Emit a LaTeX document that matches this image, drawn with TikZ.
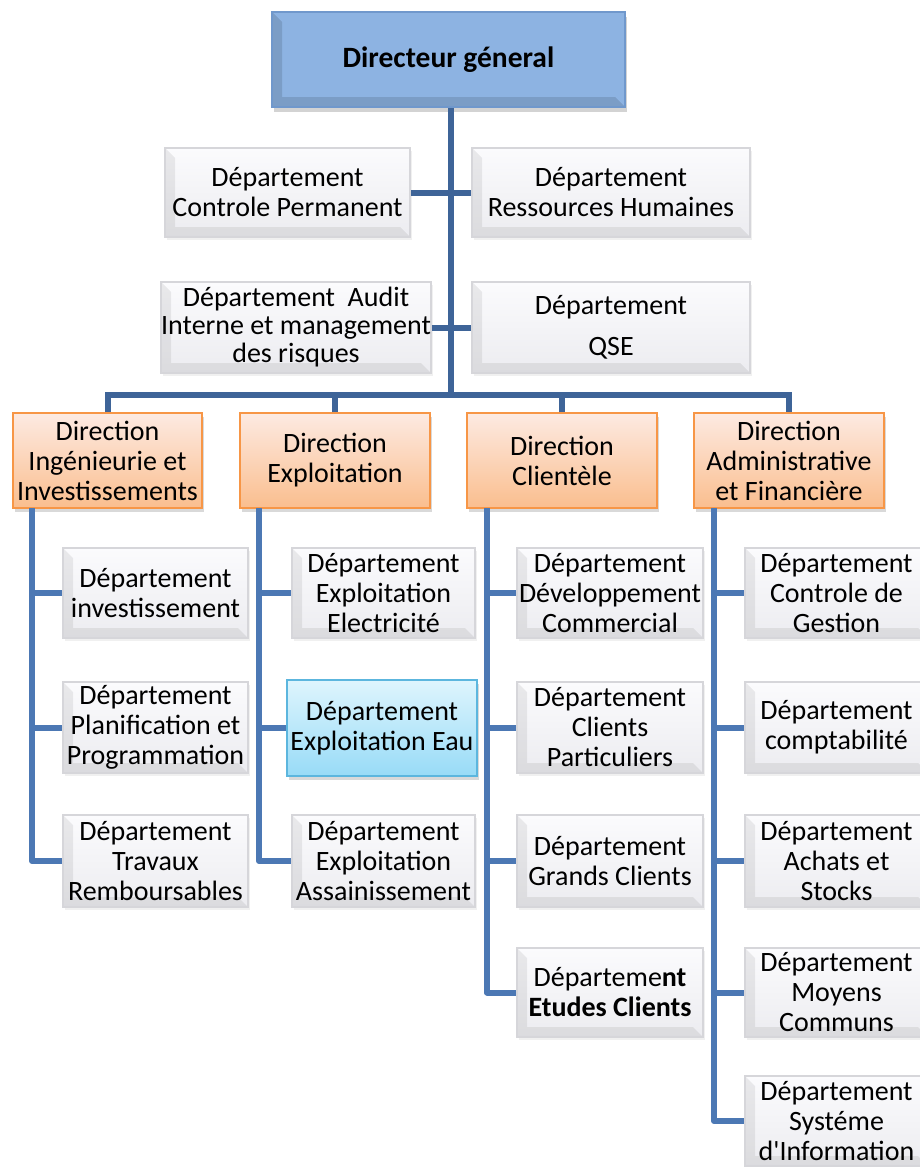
\documentclass[tikz,border=0pt]{standalone}
\usepackage{fontspec}
\setmainfont{Carlito}
\newfontfamily\straightq{Carlito}[Ligatures=TeXOff]
\usetikzlibrary{shadows}
\definecolor{trunkc}{RGB}{62,100,152}
\definecolor{colc}{RGB}{76,120,180}
\definecolor{grayfillA}{RGB}{251,251,253}
\definecolor{grayfillB}{RGB}{236,236,240}
\definecolor{grayedge}{RGB}{214,214,218}
\definecolor{bluefill}{RGB}{141,179,226}
\definecolor{blueedge}{RGB}{112,152,204}
\definecolor{orA}{RGB}{253,234,226}
\definecolor{orB}{RGB}{250,190,142}
\definecolor{ored}{RGB}{247,150,70}
\definecolor{eauA}{RGB}{222,245,253}
\definecolor{eauB}{RGB}{152,219,247}
\definecolor{eaued}{RGB}{92,182,222}
\tikzset{
  txt/.style={align=center, inner sep=0pt, font=\fontsize{28}{30}\selectfont},
  bevel/.style={path picture={
     \fill[black,opacity=#1] (path picture bounding box.north west)
        -- ([xshift=10pt,yshift=-10pt]path picture bounding box.north west)
        -- ([xshift=10pt,yshift=10pt]path picture bounding box.south west)
        -- ([xshift=-10pt,yshift=10pt]path picture bounding box.south east)
        -- (path picture bounding box.south east)
        -- (path picture bounding box.south west) -- cycle;}},
  gbox/.style={txt, draw=grayedge, line width=2pt, top color=grayfillA, bottom color=grayfillB,
     bevel=0.07, drop shadow={opacity=0.12, shadow xshift=2pt, shadow yshift=-3pt}},
  topbox/.style={txt, draw=blueedge, line width=2.5pt, fill=bluefill, bevel=0.12,
     font=\fontsize{29.5}{32}\selectfont\bfseries,
     drop shadow={opacity=0.35, shadow xshift=2pt, shadow yshift=-5pt}},
  dirbox/.style={txt, draw=ored, line width=1.5pt, top color=orA, bottom color=orB,
     drop shadow={opacity=0.3, shadow xshift=2pt, shadow yshift=-4pt}},
  eaubox/.style={txt, draw=eaued, line width=1.5pt, top color=eauA, bottom color=eauB,
     drop shadow={opacity=0.3, shadow xshift=2pt, shadow yshift=-4pt}},
  trunk/.style={draw=trunkc, line width=6pt},
  colline/.style={draw=colc, line width=6pt, line join=round}
}
\begin{document}
\begin{tikzpicture}[x=1pt,y=-1pt]
\useasboundingbox (0,0) rectangle (919,1167);

% coordinates of the trunk and column lines
\coordinate (bus) at (451,395);
\coordinate (c1) at (32,508);
\coordinate (c2) at (259,508);
\coordinate (c3) at (487,508);
\coordinate (c4) at (714,508);

% top
\node[topbox, minimum width=353pt, minimum height=95pt] (dg) at (448.5,59.5) {Directeur géneral};

\node[gbox, minimum width=245pt, minimum height=89pt] (cp) at (287.5,192.5) {Département\\Controle Permanent};
\node[gbox, minimum width=278pt, minimum height=89pt] (rh) at (611,192.5) {Département\\Ressources Humaines};
\node[gbox, minimum width=262pt, minimum height=91pt] (au) at (296,327.5) {Département~ Audit\\[-2pt]Interne et management\\[-2pt]des risques};
\node[gbox, minimum width=278pt, minimum height=91pt] (qse) at (611,327.5) {Département\\[11pt]QSE};

% directions
\node[dirbox, minimum width=189pt, minimum height=95pt] (d1) at (107.5,460.5) {Direction\\Ingénieurie et\\Investissements};
\node[dirbox, minimum width=190pt, minimum height=95pt] (d2) at (335,460.5) {Direction\\Exploitation};
\node[dirbox, minimum width=190pt, minimum height=95pt] (d3) at (562,460.5) {Direction\\Clientèle};
\node[dirbox, minimum width=190pt, minimum height=95pt] (d4) at (789,460.5) {Direction\\Administrative\\et Financière};

% column 1
\node[gbox, minimum width=185pt, minimum height=90pt] (i1) at (155.5,593) {Département\\investissement};
\node[gbox, minimum width=185pt, minimum height=91pt] (i2) at (155.5,727.5) {Département\\Planification et\\Programmation};
\node[gbox, minimum width=185pt, minimum height=92pt] (i3) at (155.5,861) {Département\\Travaux\\Remboursables};

% column 2
\node[gbox, minimum width=183pt, minimum height=90pt] (e1) at (383.5,593) {Département\\Exploitation\\Electricité};
\node[eaubox, minimum width=190pt, minimum height=96pt] (e2) at (382,728) {Département\\Exploitation Eau};
\node[gbox, minimum width=183pt, minimum height=92pt] (e3) at (383.5,861) {Département\\Exploitation\\Assainissement};

% column 3
\node[gbox, minimum width=186pt, minimum height=90pt] (k1) at (610,593) {Département\\Développement\\Commercial};
\node[gbox, minimum width=186pt, minimum height=91pt] (k2) at (610,727.5) {Département\\Clients\\Particuliers};
\node[gbox, minimum width=186pt, minimum height=92pt] (k3) at (610,861) {Département\\Grands Clients};
\node[gbox, minimum width=186pt, minimum height=89pt] (k4) at (610,992.5) {Départeme\textbf{nt}\\\textbf{Etudes Clients}};

% column 4
\node[gbox, minimum width=183pt, minimum height=90pt] (a1) at (836.5,593) {Département\\Controle de\\Gestion};
\node[gbox, minimum width=183pt, minimum height=91pt] (a2) at (836.5,727.5) {Département\\comptabilité};
\node[gbox, minimum width=183pt, minimum height=92pt] (a3) at (836.5,861) {Département\\Achats et\\Stocks};
\node[gbox, minimum width=183pt, minimum height=89pt] (a4) at (836.5,992.5) {Département\\Moyens\\Communs};
\node[gbox, minimum width=183pt, minimum height=90pt] (a5) at (836.5,1121) {Département\\Systéme\\d{\straightq'}Information};

% trunk and bus
\draw[trunk] (dg.south -| bus) -- (bus);
\draw[trunk] (cp.east) -- (rh.west);
\draw[trunk] (au.east) -- (qse.west);
\draw[trunk] (d1.north) |- (d4.north |- bus) -- (d4.north);
\draw[trunk] (d2.north) -- (d2.north |- bus);
\draw[trunk] (d3.north) -- (d3.north |- bus);

% column lines
\draw[colline] (c1) |- (i3.west);
\draw[colline] (i1.west -| c1) -- (i1.west);
\draw[colline] (i2.west -| c1) -- (i2.west);

\draw[colline] (c2) |- (e3.west);
\draw[colline] (e1.west -| c2) -- (e1.west);
\draw[colline] (e2.west -| c2) -- (e2.west);

\draw[colline] (c3) |- (k4.west);
\draw[colline] (k1.west -| c3) -- (k1.west);
\draw[colline] (k2.west -| c3) -- (k2.west);
\draw[colline] (k3.west -| c3) -- (k3.west);

\draw[colline] (c4) |- (a5.west);
\draw[colline] (a1.west -| c4) -- (a1.west);
\draw[colline] (a2.west -| c4) -- (a2.west);
\draw[colline] (a3.west -| c4) -- (a3.west);
\draw[colline] (a4.west -| c4) -- (a4.west);
\end{tikzpicture}
\end{document}
